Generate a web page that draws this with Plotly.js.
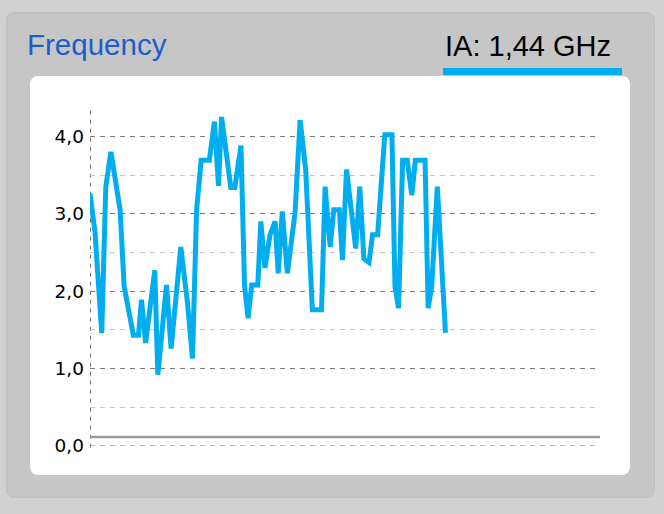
<!DOCTYPE html>
<html>
<head>
<meta charset="utf-8">
<script src="https://cdn.plot.ly/plotly-3.0.1.min.js"></script>
<style>
  html, body { margin: 0; padding: 0; width: 664px; height: 514px; background: #d1d1d1; overflow: hidden; }
  #panel { position: absolute; left: 6px; top: 12px; width: 647px; height: 484px; background: #c6c6c6; border: 1px solid #bfbfbf; border-radius: 8px; }
  #card { position: absolute; left: 30px; top: 76px; width: 600px; height: 399px; background: #ffffff; border-radius: 8px; }
  #title { position: absolute; left: 27px; top: 31px; font-family: "Liberation Sans", Arial, sans-serif; font-size: 29.5px; line-height: 28px; color: #1a5fcc; white-space: nowrap; }
  #value { position: absolute; left: 445px; top: 32px; font-family: "Liberation Sans", Arial, sans-serif; font-size: 29px; line-height: 28px; color: #000000; white-space: nowrap; }
  #bar { position: absolute; left: 443px; top: 68px; width: 179px; height: 7px; background: #00aeef; }
  #chart { position: absolute; left: 30px; top: 76px; width: 600px; height: 399px; }
</style>
</head>
<body>
<div id="panel"></div>
<div id="title">Frequency</div>
<div id="value">IA: 1,44 GHz</div>
<div id="bar"></div>
<div id="card"></div>
<div id="chart"></div>
<script>
// Sample positions (time units) and frequency values in GHz
const sampleTimes = [0, 1.0, 2.3, 3.1, 4.1, 5.9, 6.7, 8.5, 9.5, 10.1, 10.9, 12.7, 13.3, 14.1, 15.0, 15.9, 17.8, 19.1, 20.1, 20.9, 21.8, 23.4, 24.4, 25.2, 25.8, 27.6, 28.4, 29.6, 30.3, 31.0, 31.7, 32.9, 33.5, 34.3, 35.3, 36.3, 36.9, 37.7, 38.7, 40.2, 41.2, 42.3, 43.6, 45.4, 46.1, 47.1, 47.8, 48.9, 49.5, 50.3, 52.1, 52.9, 53.7, 54.7, 55.4, 56.4, 57.8, 59.2, 59.8, 60.5, 61.3, 62.2, 63.1, 63.8, 65.7, 66.3, 67.0, 68.1, 69.7];
const frequencyGHz = [3.26, 2.75, 1.46, 3.35, 3.80, 3.05, 2.06, 1.43, 1.43, 1.89, 1.33, 2.27, 0.92, 1.40, 2.08, 1.26, 2.57, 1.86, 1.13, 3.05, 3.69, 3.69, 4.19, 3.36, 4.25, 3.34, 3.34, 3.88, 2.08, 1.65, 2.08, 2.08, 2.90, 2.30, 2.73, 2.90, 2.23, 3.03, 2.23, 3.01, 4.21, 3.56, 1.76, 1.76, 3.35, 2.57, 3.05, 3.05, 2.40, 3.57, 2.55, 3.35, 2.42, 2.37, 2.73, 2.73, 4.02, 4.02, 2.06, 1.78, 3.69, 3.69, 3.24, 3.69, 3.69, 1.78, 2.06, 3.35, 1.46];
const yTickValues = [0, 1, 2, 3, 4];
const baselineValue = 0.115;

const trace = {
  x: sampleTimes,
  y: frequencyGHz,
  type: 'scatter',
  mode: 'lines',
  line: { color: '#00aeef', width: 5 },
  hoverinfo: 'skip',
  cliponaxis: true
};

const layout = {
  width: 600,
  height: 399,
  margin: { l: 60, r: 30, t: 34, b: 29 },
  paper_bgcolor: 'rgba(0,0,0,0)',
  plot_bgcolor: 'rgba(0,0,0,0)',
  separators: ',.',
  showlegend: false,
  font: { family: 'DejaVu Sans, sans-serif', size: 18.5, color: '#000000' },
  xaxis: {
    range: [0, 100],
    showticklabels: false,
    showgrid: false,
    zeroline: false,
    showline: false,
    ticks: ''
  },
  yaxis: {
    range: [0, 4.34],
    tickvals: yTickValues,
    tickformat: '.1f',
    showgrid: true,
    gridcolor: '#7a7a7a',
    griddash: '5px,5px',
    gridwidth: 1,
    zeroline: false,
    showline: false,
    ticks: '',
    ticklabelstandoff: 5,
    minor: { dtick: 0.5, showgrid: true, gridcolor: '#c4c4c4', griddash: '5px,5px', gridwidth: 1 }
  },
  shapes: [
    {
      type: 'line', xref: 'x', yref: 'paper', layer: 'below',
      x0: 0.1, x1: 0.1, y0: -0.005, y1: 1,
      line: { color: '#6f6f6f', width: 1, dash: '4px,5px' }
    },
    {
      type: 'line', xref: 'paper', yref: 'y', layer: 'below',
      x0: 0, x1: 0.99, y0: 0, y1: 0,
      line: { color: '#6f6f6f', width: 1, dash: '5px,5px' }
    },
    {
      type: 'line', xref: 'paper', yref: 'y',
      x0: 0, x1: 1, y0: baselineValue, y1: baselineValue,
      line: { color: '#9a9a9a', width: 2.5 }
    }
  ]
};

Plotly.newPlot('chart', [trace], layout, { staticPlot: true, displayModeBar: false });
</script>
</body>
</html>
